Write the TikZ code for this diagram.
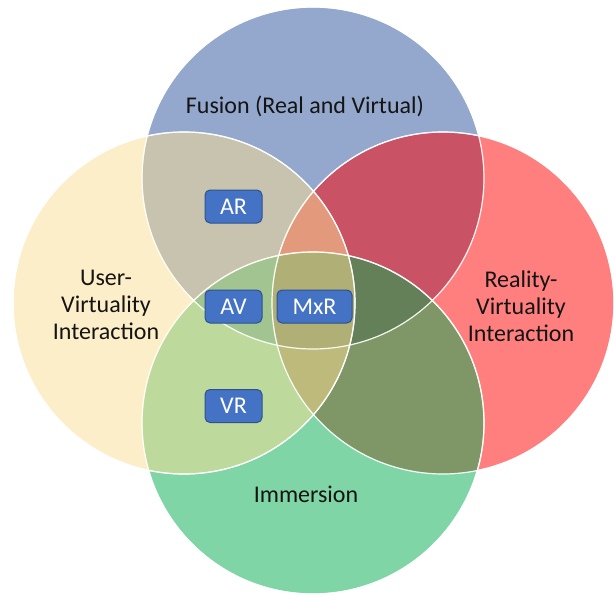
\documentclass[tikz,border=0pt]{standalone}
\usepackage{fontspec}
\setmainfont{Carlito}
\definecolor{fusionblue}{RGB}{41,83,155}
\definecolor{realred}{RGB}{255,0,0}
\definecolor{immgreen}{RGB}{0,173,79}
\definecolor{useryellow}{RGB}{251,223,147}
\definecolor{tagfill}{RGB}{68,114,196}
\definecolor{tagline}{RGB}{47,82,143}
\definecolor{labeltext}{RGB}{20,20,20}
\begin{document}
\begin{tikzpicture}[x=1pt,y=-1pt,
  setcircle/.style={draw=white,line width=1.2pt,fill opacity=0.5,draw opacity=0.9},
  setlabel/.style={font=\fontsize{24}{27}\selectfont,text=labeltext,align=center},
  tag/.style={draw=tagline,fill=tagfill,line width=1pt,rounded corners=5pt,
    text=white,font=\fontsize{24}{24}\selectfont,inner sep=0pt,
    minimum height=33pt}]
  \useasboundingbox (0,0) rectangle (614,595);
  \fill[white] (0,0) rectangle (614,595);

  % the four overlapping sets
  \coordinate (ctop) at (313,178);
  \coordinate (cright) at (443,303);
  \coordinate (cbottom) at (313,423);
  \coordinate (cleft) at (184,303);
  \fill[fusionblue,setcircle] (ctop) circle (171);
  \fill[realred,setcircle] (cright) circle (171);
  \fill[immgreen,setcircle] (cbottom) circle (171);
  \fill[useryellow,setcircle] (cleft) circle (171);
  \draw[white,line width=1.2pt,draw opacity=0.9] (ctop) circle (171);
  \draw[white,line width=1.2pt,draw opacity=0.9] (cright) circle (171);
  \draw[white,line width=1.2pt,draw opacity=0.9] (cbottom) circle (171);
  \draw[white,line width=1.2pt,draw opacity=0.9] (cleft) circle (171);

  % set names
  \node[setlabel] (fusion) at (305,106) {Fusion (Real and Virtual)};
  \node[setlabel] (uvi) at (106,305) {User-\\Virtuality\\Interaction};
  \node[setlabel] (rvi) at (521,306) {Reality-\\Virtuality\\Interaction};
  \node[setlabel] (imm) at (306,494) {Immersion};

  % overlap tags
  \node[tag,minimum width=57pt] (ar) at (233.5,206.5) {AR};
  \node[tag,minimum width=57pt] (av) at (233.5,306.5) {AV};
  \node[tag,minimum width=75pt] (mxr) at (314.5,306.5) {MxR};
  \node[tag,minimum width=57pt] (vr) at (233.5,406) {VR};
\end{tikzpicture}
\end{document}
